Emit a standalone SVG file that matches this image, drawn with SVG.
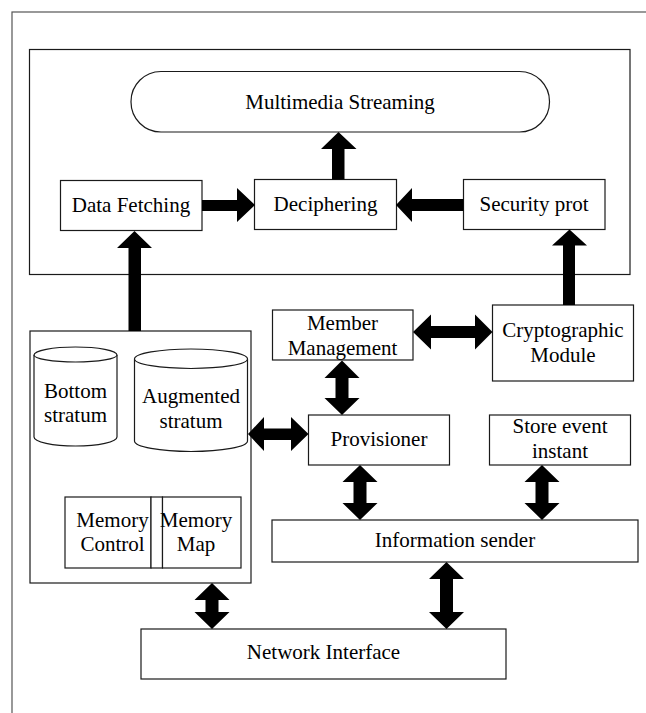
<svg xmlns="http://www.w3.org/2000/svg" width="646" height="713" viewBox="0 0 646 713">
<style>
.b{fill:#fff;stroke:#1a1a1a;stroke-width:1.2}
.f{fill:none;stroke:#555;stroke-width:1.2}
.a{fill:#000;stroke:none}
</style>
<rect width="646" height="713" fill="#fff"/>
<rect class="f" x="12" y="12" width="700" height="760"/>
<g font-family="Liberation Serif, DejaVu Serif, serif" font-size="21" text-anchor="middle" fill="#000">
<g id="top-group"><rect class="b" x="29.5" y="49.5" width="600.5" height="225"/></g>
<g id="multimedia-streaming"><rect class="b" x="131" y="71.5" width="418.5" height="60.5" rx="30" ry="30"/><text x="340" y="108.5">Multimedia Streaming</text></g>
<g id="data-fetching"><rect class="b" x="60.5" y="180.5" width="141.5" height="50"/><text x="131" y="211.5">Data Fetching</text></g>
<g id="deciphering"><rect class="b" x="254.5" y="179.5" width="142" height="50"/><text x="325.5" y="210.5">Deciphering</text></g>
<g id="security-prot"><rect class="b" x="463.5" y="179.5" width="141.5" height="50"/><text x="534" y="210.5">Security prot</text></g>
<g id="storage-group"><rect class="b" x="30" y="331" width="221" height="252"/></g>
<g id="bottom-stratum"><path class="b" d="M34,355 A41.5,8 0 0 1 117,355 L117,437 A41.5,9 0 0 1 34,437 Z"/><path class="b" d="M34,355 A41.5,7 0 0 0 117,355"/><text x="75.5" y="398">Bottom</text><text x="75.5" y="422">stratum</text></g>
<g id="augmented-stratum"><path class="b" d="M134.5,359 A56.5,10 0 0 1 247.5,359 L247.5,441 A56.5,10.5 0 0 1 134.5,441 Z"/><path class="b" d="M134.5,359 A56.5,9.5 0 0 0 247.5,359"/><text x="191" y="403">Augmented</text><text x="191" y="428">stratum</text></g>
<g id="memory-control"><rect class="b" x="65" y="497" width="86" height="71"/><text x="112.5" y="527">Memory</text><text x="112.5" y="551">Control</text></g>
<g id="memory-divider"><rect class="b" x="151" y="497" width="11.5" height="71"/></g>
<g id="memory-map"><rect class="b" x="162.5" y="497" width="78.5" height="71"/><text x="196" y="527">Memory</text><text x="196" y="551">Map</text></g>
<g id="member-management"><rect class="b" x="272.5" y="310" width="140.5" height="50"/><text x="342.5" y="330">Member</text><text x="342.5" y="355">Management</text></g>
<g id="cryptographic-module"><rect class="b" x="492.5" y="305" width="141" height="76"/><text x="563" y="337">Cryptographic</text><text x="563" y="362">Module</text></g>
<g id="provisioner"><rect class="b" x="308.5" y="415" width="141" height="50"/><text x="379" y="446">Provisioner</text></g>
<g id="store-event-instant"><rect class="b" x="489.5" y="415" width="141" height="50"/><text x="560" y="433">Store event</text><text x="560" y="458">instant</text></g>
<g id="information-sender"><rect class="b" x="272" y="520" width="366" height="42"/><text x="455" y="547">Information sender</text></g>
<g id="network-interface"><rect class="b" x="141" y="629" width="365" height="50"/><text x="323.5" y="659">Network Interface</text></g>
</g>
<g id="connectors">
<polygon class="a" points="332,179.5 332,149 321,149 338.5,132 356.5,149 344.5,149 344.5,179.5"/>
<polygon class="a" points="202,200 237,200 237,188 255,205 237,222 237,211 202,211"/>
<polygon class="a" points="463.5,199 412,199 412,188 396,205 412,222 412,211 463.5,211"/>
<polygon class="a" points="128.5,331 128.5,248 117,248 134.5,231 152,248 141,248 141,331"/>
<polygon class="a" points="563,305 563,245.5 552,245.5 569.5,229.5 587,245.5 575,245.5 575,305"/>
<polygon class="a" points="413,332 431,314.5 431,326 475,326 475,314.5 492.5,332 475,349.5 475,338 431,338 431,349.5"/>
<polygon class="a" points="248,434 264,417 264,428.5 291,428.5 291,417 308.5,434 291,451 291,440 264,440 264,451"/>
<polygon class="a" points="342,360.5 359.5,378 348.5,378 348.5,398 359.5,398 342,415 324.5,398 335.5,398 335.5,378 324.5,378"/>
<polygon class="a" points="360,465 377.5,482 366.5,482 366.5,503 377.5,503 360,520 342.5,503 353.5,503 353.5,482 342.5,482"/>
<polygon class="a" points="542,465 559.5,482 548.5,482 548.5,503 559.5,503 542,520 524.5,503 535.5,503 535.5,482 524.5,482"/>
<polygon class="a" points="212,583 229.5,600 218.5,600 218.5,612 229.5,612 212,629 194.5,612 205.5,612 205.5,600 194.5,600"/>
<polygon class="a" points="446.5,562 464,579 453,579 453,612 464,612 446.5,629 429,612 440,612 440,579 429,579"/>
</g>
</svg>
